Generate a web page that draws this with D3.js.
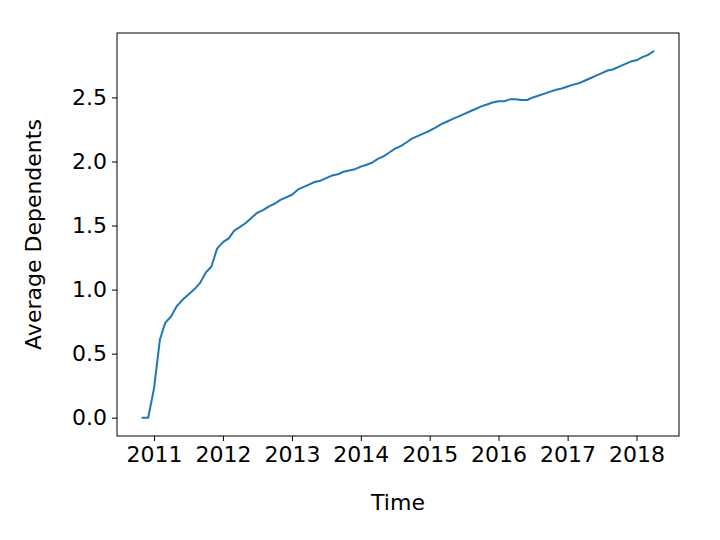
<!DOCTYPE html>
<html>
<head>
<meta charset="utf-8">
<script src="https://cdn.jsdelivr.net/npm/d3@7"></script>
<style>
  html, body { margin: 0; padding: 0; background: #fff; }
  svg { display: block; font-family: "DejaVu Sans", sans-serif; }
</style>
</head>
<body>
<svg id="chart" width="720" height="540"></svg>
<script>
// Monthly data: start month and values
const startMonth = "2010-11";
const values = [
  0.00, 0.00,
  0.23, 0.61, 0.74, 0.79, 0.87, 0.92, 0.96, 1.00, 1.05, 1.13, 1.18, 1.32,
  1.37, 1.40, 1.46, 1.49, 1.52, 1.56, 1.60, 1.62, 1.65, 1.67, 1.70, 1.72,
  1.74, 1.78, 1.80, 1.82, 1.84, 1.85, 1.87, 1.89, 1.90, 1.92, 1.93, 1.94,
  1.96, 1.975, 1.99, 2.02, 2.04, 2.07, 2.10, 2.12, 2.15, 2.18, 2.20, 2.22,
  2.24, 2.265, 2.29, 2.31, 2.33, 2.35, 2.37, 2.39, 2.41, 2.43, 2.445, 2.46,
  2.47, 2.47, 2.485, 2.485, 2.48, 2.48, 2.50, 2.515, 2.53, 2.545, 2.56, 2.57,
  2.585, 2.60, 2.61, 2.63, 2.65, 2.67, 2.69, 2.71, 2.72, 2.74, 2.76, 2.78,
  2.79, 2.815, 2.83, 2.86
];
const yTicks = [0.0, 0.5, 1.0, 1.5, 2.0, 2.5];
const xTickYears = [2011, 2012, 2013, 2014, 2015, 2016, 2017, 2018];
const xLabel = "Time";
const yLabel = "Average Dependents";

const parse = d3.timeParse("%Y-%m");
const t0 = parse(startMonth);
const data = values.map((v, i) => ({ date: d3.timeMonth.offset(t0, i), value: v }));

const margin = { left: 117, right: 41, top: 33, bottom: 104 };
const W = 720, H = 540;
const x0 = margin.left, x1 = W - margin.right, y0 = H - margin.bottom, y1 = margin.top;
const FS = "22px";

const svg = d3.select("#chart");

// matplotlib-like 5% padding
const dExt = d3.extent(data, d => d.date);
const span = dExt[1] - dExt[0];
const xScale = d3.scaleTime()
  .domain([new Date(+dExt[0] - span * 0.05), new Date(+dExt[1] + span * 0.05)])
  .range([x0, x1]);
const vExt = d3.extent(values);
const vSpan = vExt[1] - vExt[0];
const yScale = d3.scaleLinear()
  .domain([vExt[0] - vSpan * 0.05, vExt[1] + vSpan * 0.05])
  .range([y0, y1]);

const line = d3.line().x(d => xScale(d.date)).y(d => yScale(d.value));

svg.append("path")
  .datum(data)
  .attr("d", line)
  .attr("fill", "none")
  .attr("stroke", "#1f77b4")
  .attr("stroke-width", 2)
  .attr("stroke-linejoin", "round")
  .attr("stroke-linecap", "square");

// Axes
const xAxis = d3.axisBottom(xScale)
  .tickValues(xTickYears.map(y => new Date(y, 0, 1)))
  .tickFormat(d3.timeFormat("%Y"))
  .tickSize(5).tickPadding(5).tickSizeOuter(0);
const yAxis = d3.axisLeft(yScale)
  .tickValues(yTicks)
  .tickFormat(d3.format(".1f"))
  .tickSize(5).tickPadding(5).tickSizeOuter(0);

const gx = svg.append("g").attr("transform", `translate(0,${y0})`).call(xAxis);
const gy = svg.append("g").attr("transform", `translate(${x0},0)`).call(yAxis);
[gx, gy].forEach(g => {
  g.select(".domain").remove();
  g.selectAll(".tick line").attr("stroke", "#000").attr("stroke-width", 1);
  g.selectAll(".tick text").attr("fill", "#000").style("font-size", FS)
    .style("font-family", "'DejaVu Sans', sans-serif");
});

// Frame
svg.append("rect")
  .attr("x", x0).attr("y", y1)
  .attr("width", x1 - x0).attr("height", y0 - y1)
  .attr("fill", "none").attr("stroke", "#000").attr("stroke-width", 1);

// Labels
svg.append("text")
  .attr("x", (x0 + x1) / 2).attr("y", 510)
  .attr("text-anchor", "middle")
  .style("font-size", FS)
  .text(xLabel);
svg.append("text")
  .attr("transform", `translate(41,${(y0 + y1) / 2}) rotate(-90)`)
  .attr("text-anchor", "middle")
  .style("font-size", FS)
  .text(yLabel);
</script>
</body>
</html>
